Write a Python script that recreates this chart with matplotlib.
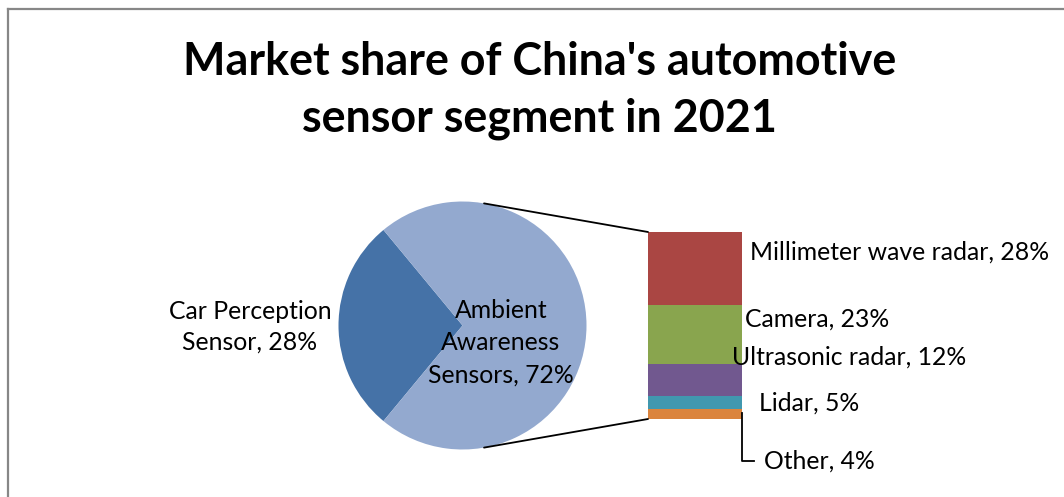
import numpy as np
import matplotlib
matplotlib.use("Agg")
import matplotlib.pyplot as plt
from matplotlib.patches import ConnectionPatch
from matplotlib.lines import Line2D

# ---------------- data ----------------
title_lines = ["Market share of China's automotive", "sensor segment in 2021"]
pie_labels = ["Car Perception\nSensor, 28%", "Ambient\nAwareness\nSensors, 72%"]
pie_values = [28, 72]
pie_colors = ["#4572A7", "#93A9CF"]

bar_labels = ["Other, 4%", "Lidar, 5%", "Ultrasonic radar, 12%", "Camera, 23%",
              "Millimeter wave radar, 28%"]
bar_values = [4, 5, 12, 23, 28]
bar_colors = ["#DB843D", "#4198AF", "#71588F", "#89A54E", "#AA4643"]

W, H = 1064, 497
FONT = "Lato"

fig = plt.figure(figsize=(W / 100, H / 100), dpi=100)
fig.patch.set_facecolor("white")


def fx(x):
    return x / W


def fy(y):
    return 1 - y / H


# outer border (top and left visible)
fig.add_artist(Line2D([fx(7.5), fx(W + 5)], [fy(8.5), fy(8.5)], color="#878787", lw=1.6,
                      transform=fig.transFigure))
fig.add_artist(Line2D([fx(7.5), fx(7.5)], [fy(8.5), fy(H + 5)], color="#878787", lw=1.6,
                      transform=fig.transFigure))

# ---------------- pie ----------------
cx, cy, r = 462.5, 325.5, 124
ax_pie = fig.add_axes([fx(cx - r), fy(cy + r), 2 * r / W, 2 * r / H])
start = 180 - pie_values[0] / 100 * 360 / 2
ax_pie.pie(pie_values, colors=pie_colors, startangle=start, counterclock=True,
           radius=1, center=(0, 0), wedgeprops=dict(linewidth=0))
ax_pie.set_xlim(-1, 1)
ax_pie.set_ylim(-1, 1)
ax_pie.set_aspect("equal")
ax_pie.axis("off")

# ---------------- stacked bar ----------------
bx0, bx1, by0, by1 = 648, 742, 232, 419
ax_bar = fig.add_axes([fx(bx0), fy(by1), (bx1 - bx0) / W, (by1 - by0) / H])
bottom = 0
for v, c in zip(bar_values, bar_colors):
    ax_bar.bar(0.5, v, width=1.0, bottom=bottom, color=c, linewidth=0)
    bottom += v
ax_bar.set_xlim(0, 1)
ax_bar.set_ylim(0, sum(bar_values))
ax_bar.axis("off")

# connector lines
ang = np.deg2rad(80)
for sgn, yb in [(1, sum(bar_values)), (-1, 0)]:
    cp = ConnectionPatch(xyA=(np.cos(ang), sgn * np.sin(ang)), coordsA=ax_pie.transData,
                         xyB=(0, yb), coordsB=ax_bar.transData, color="black", lw=1.3)
    fig.add_artist(cp)

# ---------------- text ----------------
fig.canvas.draw()
renderer = fig.canvas.get_renderer()


def fit(t, target):
    for _ in range(3):
        w = t.get_window_extent(renderer).width
        t.set_fontsize(t.get_fontsize() * target / w)


t1 = fig.text(fx(540), fy(75), title_lines[0], ha="center", va="baseline",
              fontsize=30, fontweight="bold", family=FONT)
fit(t1, 714)
tfs = t1.get_fontsize()
fig.text(fx(539), fy(131), title_lines[1], ha="center", va="baseline",
         fontsize=tfs, fontweight="bold", family=FONT)

probe = fig.text(0, 0, bar_labels[4], fontsize=16, family=FONT)
fit(probe, 298)
lfs = probe.get_fontsize()
probe.remove()

# bar labels: (left x, baseline y)
bar_label_pos = [(764, 469), (759, 411), (732, 365), (745, 327), (750, 260)]
for lab, (x, y) in zip(bar_labels, bar_label_pos):
    fig.text(fx(x), fy(y), lab, ha="left", va="baseline", fontsize=lfs, family=FONT)

# leader for "Other"
fig.add_artist(Line2D([fx(742), fx(742), fx(754)], [fy(413), fy(461), fy(461)],
                      color="black", lw=1.3, transform=fig.transFigure))

# pie labels
lines0 = pie_labels[0].split("\n")
for ln, y in zip(lines0, [319, 350]):
    fig.text(fx(250), fy(y), ln, ha="center", va="baseline", fontsize=lfs, family=FONT)
lines1 = pie_labels[1].split("\n")
for ln, y in zip(lines1, [318, 350, 383]):
    fig.text(fx(501), fy(y), ln, ha="center", va="baseline", fontsize=lfs, family=FONT)

fig.savefig("out.png", dpi=100, facecolor="white")
